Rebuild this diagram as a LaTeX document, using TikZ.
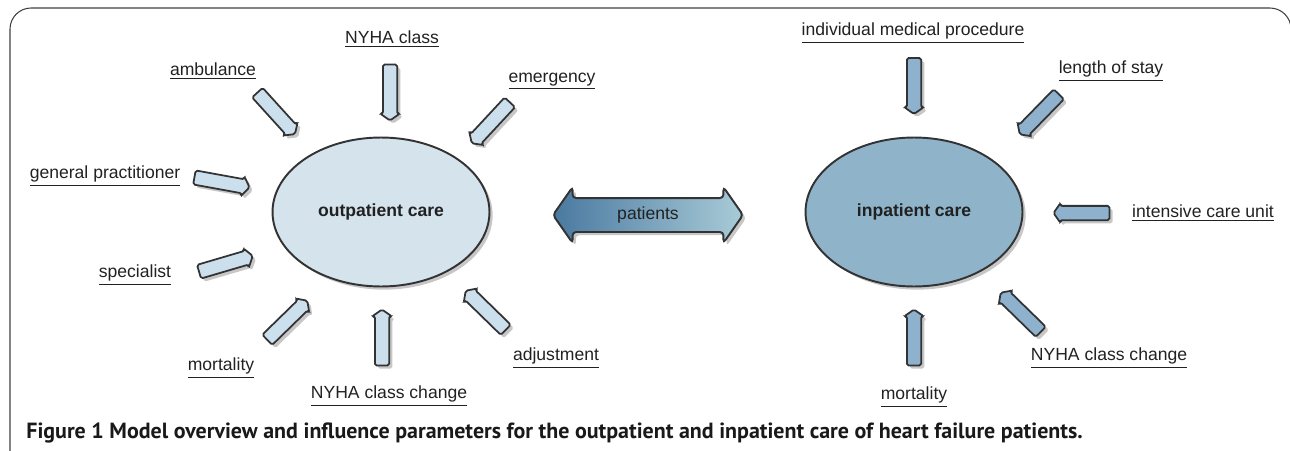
\documentclass[tikz,border=0pt]{standalone}
\usepackage{fontspec}
\setmainfont{Liberation Sans}
\newfontfamily\capfont{PT Sans}
\usetikzlibrary{positioning,shapes.geometric,shapes.arrows,shadows}
\definecolor{outfill}{HTML}{D4E3EC}
\definecolor{infill}{HTML}{8FB4CA}
\definecolor{outarr}{HTML}{CCDFEC}
\definecolor{inarr}{HTML}{8EB2CD}
\definecolor{patdark}{HTML}{4A79A0}
\definecolor{patlight}{HTML}{A9CBD7}
\definecolor{edgegray}{HTML}{333333}
\tikzset{
  every node/.style={font=\fontsize{10}{12}\selectfont, text=black!87},
  softshadow/.style={
    drop shadow={shadow xshift=1.8pt, shadow yshift=-1.8pt, opacity=0.22, fill=black}
  }
}

\begin{document}
\begin{tikzpicture}[x=0.02cm, y=-0.02cm]
  \tikzset{
    care/.style={
      draw=edgegray,
      ellipse,
      line width=1.1pt,
      minimum width=4.34cm,
      minimum height=2.98cm,
      inner sep=0pt,
      font=\fontsize{10}{12}\selectfont\bfseries,
      softshadow
    },
    param/.style={
      inner sep=1pt
    },
    smallarr/.style={
      draw=edgegray,
      single arrow,
      line width=1pt,
      minimum height=1.12cm,
      inner xsep=0pt,
      inner ysep=0.125cm,
      single arrow head extend=0.05cm,
      single arrow tip angle=110,
      rounded corners=1pt,
      softshadow
    },
    outarrow/.style={smallarr, fill=outarr},
    inarrow/.style={smallarr, fill=inarr}
  }
  \useasboundingbox (0,0) rectangle (1290,450);
  \clip (0,0) rectangle (1290,450);

  % Frame
  \draw[black!75, line width=0.6pt, rounded corners=12] (10,470) -- (10,8) -- (1291,8) -- (1291,470);

  % Care sectors
  \node[care, fill=outfill] (outp) at (381,212) {outpatient care};
  \node[care, fill=infill] (inp) at (914,212) {inpatient care};

  % Patient flow
  \node[draw=edgegray, double arrow, line width=1.1pt, left color=patdark, right color=patlight,
        minimum height=3.8cm, text height=0.25cm, text depth=0.08cm, inner xsep=0pt, inner ysep=0.155cm,
        double arrow head extend=0.22cm, double arrow tip angle=110, rounded corners=2pt, softshadow]
        (pat) at (648,215) {patients};

  % Outpatient parameters
  \node[param] (lNyha) at (392,39) {\underline{NYHA class}};
  \node[param] (lAmb) at (213,71) {\underline{ambulance}};
  \node[param] (lEmer) at (552,81) {\underline{emergency}};
  \node[param] (lGp) at (105,176) {\underline{general practitioner}};
  \node[param] (lSpec) at (135,275) {\underline{specialist}};
  \node[param] (lMortO) at (221,368) {\underline{mortality}};
  \node[param] (lChgO) at (389,396) {\underline{NYHA class change}};
  \node[param] (lAdj) at (556,358) {\underline{adjustment}};

  \node[outarrow, rotate=-90] (aNyha) at (390,90) {};
  \node[outarrow, rotate=-47.8] (aAmb) at (274.5,111.5) {};
  \node[outarrow, rotate=-132.9] (aEmer) at (492.5,121) {};
  \node[outarrow, rotate=-10.3] (aGp) at (219.5,182) {};
  \node[outarrow, rotate=16.4] (aSpec) at (223.5,264.5) {};
  \node[outarrow, rotate=44.3] (aMortO) at (285.5,322) {};
  \node[outarrow, rotate=90] (aChgO) at (382,340) {};
  \node[outarrow, rotate=135.7] (aAdj) at (487.5,312) {};

  % Inpatient parameters
  \node[param] (lProc) at (913,33) {\underline{individual medical procedure}};
  \node[param] (lStay) at (1111,71) {\underline{length of stay}};
  \node[param] (lIcu) at (1203,213) {\underline{intensive care unit}};
  \node[param] (lChgI) at (1109,358) {\underline{NYHA class change}};
  \node[param] (lMortI) at (914,397) {\underline{mortality}};

  \node[inarrow, rotate=-90] (aProc) at (914,83.5) {};
  \node[inarrow, rotate=-134.3] (aStay) at (1041,112.5) {};
  \node[inarrow, rotate=180] (aIcu) at (1084,213) {};
  \node[inarrow, rotate=135.7] (aChgI) at (1022.5,314) {};
  \node[inarrow, rotate=90] (aMortI) at (914,340) {};

  % Caption
  \node[anchor=west, inner sep=0pt, font=\capfont\fontsize{12.5}{14}\selectfont\bfseries, text=black!90]
    (cap) at (26,433) {Figure 1 Model overview and influence parameters for the outpatient and inpatient care of heart failure patients.};
\end{tikzpicture}
\end{document}
